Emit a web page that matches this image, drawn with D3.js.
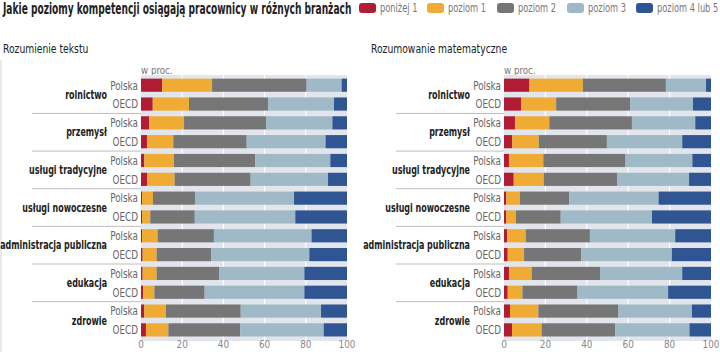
<!DOCTYPE html>
<html>
<head>
<meta charset="utf-8">
<script src="https://cdn.jsdelivr.net/npm/d3@7"></script>
<style>
body { margin: 0; background: #fff; }
text { font-family: "Liberation Sans Narrow", "DejaVu Sans Condensed", sans-serif; }
</style>
</head>
<body>
<div id="chart"></div>
<script>
var svgWidth = 720;
var svgHeight = 352;

var levels = ["poniżej 1", "poziom 1", "poziom 2", "poziom 3", "poziom 4 lub 5"];
var colors = ["#b01c33", "#efab33", "#767676", "#9fbac6", "#2f5593"];
var sectors = ["rolnictwo", "przemysł", "usługi tradycyjne", "usługi nowoczesne", "administracja publiczna", "edukacja", "zdrowie"];
var countries = ["Polska", "OECD"];
var ticks = [0, 20, 40, 60, 80, 100];

// rows: sector x country, values per level (in %)
var reading = [
	[10.3, 24.2, 45.9, 17.0, 2.6], [5.7, 17.6, 38.5, 31.9, 6.3],
	[4.0, 16.9, 39.8, 32.2, 7.1], [2.9, 12.8, 35.6, 38.3, 10.4],
	[1.6, 14.4, 39.5, 36.4, 8.1], [3.1, 13.2, 36.9, 37.6, 9.2],
	[0.5, 5.3, 20.4, 48.1, 25.7], [0.5, 4.0, 21.6, 48.8, 25.1],
	[0.5, 7.6, 27.3, 47.4, 17.2], [0.8, 6.8, 26.4, 47.7, 18.3],
	[0.8, 6.8, 30.3, 41.4, 20.7], [1.0, 5.5, 24.4, 48.4, 20.7],
	[1.6, 10.5, 36.3, 39.0, 12.6], [2.4, 10.9, 34.8, 40.6, 11.3]
];
var maths = [
	[12.3, 25.8, 40.1, 19.4, 2.4], [8.4, 16.8, 35.8, 30.3, 8.7],
	[5.3, 16.6, 39.9, 30.6, 7.6], [4.0, 12.8, 32.9, 36.4, 13.9],
	[2.4, 16.6, 39.7, 32.3, 9.0], [4.7, 14.5, 35.6, 34.6, 10.6],
	[1.1, 6.6, 23.9, 43.1, 25.3], [1.1, 4.7, 21.6, 44.1, 28.5],
	[1.5, 9.0, 31.0, 41.2, 17.3], [1.8, 7.9, 27.7, 43.7, 18.9],
	[2.4, 11.0, 33.0, 39.7, 13.9], [1.8, 7.1, 26.6, 43.8, 20.7],
	[2.9, 13.7, 38.7, 35.5, 9.2], [3.9, 14.3, 35.5, 35.9, 10.4]
];

var svg = d3.select("#chart")
	.append("svg")
	.attr("width", svgWidth)
	.attr("height", svgHeight);

// squeeze text horizontally, the original uses a narrow font
function narrow(sel, f) {
	sel.each(function () {
		var t = d3.select(this);
		var tx = +t.attr("x") || 0, ty = +t.attr("y") || 0;
		t.attr("x", 0).attr("y", 0)
			.attr("transform", "translate(" + tx + "," + ty + ") scale(" + f + ",1)");
	});
}

// title
svg.append("text")
	.attr("x", 3).attr("y", 14)
	.style("font-size", "15px").style("font-weight", "bold").style("fill", "#222")
	.text("Jakie poziomy kompetencji osiągają pracownicy w różnych branżach")
	.call(function (sel) {
		var w = sel.node().getComputedTextLength();
		narrow(sel, 349 / w);
	});

// legend
var legendX = [359, 427, 497, 567, 636];
var legend = svg.selectAll(".legend")
	.data(levels)
	.enter()
	.append("g")
	.attr("transform", (d, i) => "translate(" + legendX[i] + ",3)");
legend.append("rect")
	.attr("width", 17).attr("height", 10).attr("rx", 3)
	.style("fill", (d, i) => colors[i]);
legend.append("text")
	.attr("x", 21).attr("y", 9)
	.style("font-size", "11.5px").style("fill", "#777")
	.text(d => d)
	.call(narrow, 0.8);

// left border
svg.append("line")
	.attr("x1", 1).attr("x2", 1).attr("y1", 60).attr("y2", 352)
	.style("stroke", "#d4d4d4");

var y = d3.scaleBand()
	.domain(d3.range(14))
	.range([75.8, 339.3])
	.paddingInner(0.3)
	.paddingOuter(0.15);

function drawPanel(data, title, titleX, x0, x1, groupRight, sepLeft) {
	var x = d3.scaleLinear().domain([0, 100]).range([x0, x1]);
	var g = svg.append("g");

	g.append("text")
		.attr("x", titleX).attr("y", 53)
		.style("font-size", "12.5px").style("fill", "#222")
		.text(title)
		.call(narrow, 0.82);

	g.append("text")
		.attr("x", x0).attr("y", 74)
		.style("font-size", "11px").style("fill", "#777")
		.text("w proc.")
		.call(narrow, 0.88);

	g.append("rect")
		.attr("x", x(0)).attr("y", 75)
		.attr("width", x(100) - x(0)).attr("height", 266)
		.style("fill", "#e2e5ec");

	g.selectAll(".grid")
		.data(ticks.slice(1, 5))
		.enter()
		.append("line")
		.attr("x1", d => x(d)).attr("x2", d => x(d))
		.attr("y1", 75).attr("y2", 341)
		.style("stroke", "#fff").style("stroke-width", 1.2);

	var rows = g.selectAll(".row")
		.data(data)
		.enter()
		.append("g")
		.attr("transform", (d, i) => "translate(0," + y(i) + ")");

	rows.selectAll("rect")
		.data(d => {
			var cum = d3.cumsum(d);
			return d.map((v, k) => ({ start: cum[k] - v, end: cum[k], k: k }));
		})
		.enter()
		.append("rect")
		.attr("x", d => x(d.start))
		.attr("width", d => Math.max(0, Math.min(x(d.end), x(100)) - x(d.start)))
		.attr("height", y.bandwidth())
		.style("fill", d => colors[d.k]);

	rows.append("text")
		.attr("x", x0 - 3).attr("y", y.bandwidth() / 2 + 4.3)
		.attr("text-anchor", "end")
		.style("font-size", "12px").style("fill", "#666")
		.text((d, i) => countries[i % 2])
		.call(narrow, 0.82);

	// group labels
	g.selectAll(".group")
		.data(sectors)
		.enter()
		.append("text")
		.attr("x", groupRight)
		.attr("y", (d, i) => (y(2 * i) + y(2 * i + 1) + y.bandwidth()) / 2 + 4.2)
		.attr("text-anchor", "end")
		.style("font-size", "11.5px").style("font-weight", "bold").style("fill", "#222")
		.text(d => d)
		.call(narrow, 0.77);

	// separators
	g.selectAll(".sep")
		.data(sectors.slice(1))
		.enter()
		.append("line")
		.attr("x1", sepLeft).attr("x2", x0)
		.attr("y1", (d, i) => (y(2 * i + 1) + y.bandwidth() + y(2 * i + 2)) / 2)
		.attr("y2", (d, i) => (y(2 * i + 1) + y.bandwidth() + y(2 * i + 2)) / 2)
		.style("stroke", "#bdbdbd");

	// x axis labels
	g.selectAll(".tick")
		.data(ticks)
		.enter()
		.append("text")
		.attr("x", d => x(d)).attr("y", 348)
		.attr("text-anchor", "middle")
		.style("font-size", "11px").style("fill", "#888")
		.text(d => d)
		.call(narrow, 0.9);
}

drawPanel(reading, "Rozumienie tekstu", 3, 141, 347, 107, 32);
drawPanel(maths, "Rozumowanie matematyczne", 371, 504, 711, 470, 396);
</script>
</body>
</html>
